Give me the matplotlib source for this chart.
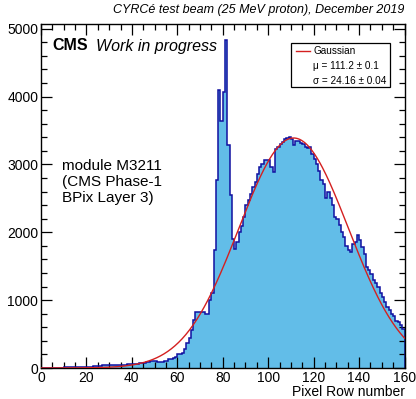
import matplotlib
matplotlib.use("Agg")
import matplotlib.pyplot as plt
import numpy as np
from matplotlib.patches import Rectangle
from matplotlib.lines import Line2D
from matplotlib.ticker import MultipleLocator

plt.rcParams["font.family"] = ["Liberation Sans", "DejaVu Sans"]

# pixel row histogram, 1 bin per row (0..159)
counts_low = [2, 2, 3, 3, 4, 5, 5, 6, 6, 7,
              8, 9, 10, 10, 11, 12, 12, 14, 15, 16,
              18, 20, 22, 24, 26, 28, 30, 38, 42, 40,
              40, 40, 38, 40, 42, 45, 48, 50, 52, 55,
              58, 62, 66, 70, 75, 80, 88, 95, 107, 100]
counts_mid = [100, 88, 88, 90, 107, 110, 137, 137, 150, 162,
              200, 205, 215, 279, 363, 436, 559, 706, 828, 828,
              825, 820, 790, 790, 1000, 1100, 1735, 2775, 4090, 3640,
              4070, 4840, 3280, 2545, 1907, 1760, 1863, 2005, 2088, 2225,
              2397, 2470, 2558, 2667, 2740, 2863, 2961, 3000, 3059, 3070,
              3070, 2960, 2890, 3230, 3260, 3300, 3330, 3377, 3390, 3400]
counts_high = [3380, 3280, 3340, 3345, 3320, 3300, 3260, 3240, 3255, 3157,
               3085, 3010, 2902, 2765, 2716, 2510, 2594, 2500, 2397, 2225,
               2200, 2103, 2005, 1931, 1799, 1735, 1711, 1833, 1857, 1966,
               1882, 1784, 1686, 1490, 1441, 1392, 1294, 1255, 1196, 1108,
               1049, 980, 900, 860, 800, 760, 700, 680, 640, 580]
counts = np.array(counts_low + counts_mid + counts_high)
edges = np.arange(0, 161)

# gaussian fit result
fit_amp = 3390
fit_mu = 111.2
fit_sigma = 24.16

W, H = 416, 399
fig = plt.figure(figsize=(W / 100, H / 100), dpi=100)
ax = fig.add_axes([41 / W, (H - 368) / H, 363.5 / W, 344 / H])

ax.stairs(counts, edges, fill=True, color="#62bde8", zorder=1)
ax.stairs(counts, edges, color="#1010a0", lw=1.1, zorder=2)

xx = np.linspace(0, 160, 400)
ax.plot(xx, fit_amp * np.exp(-0.5 * ((xx - fit_mu) / fit_sigma) ** 2),
        color="#d42020", lw=1.0, zorder=3)

ax.set_xlim(0, 160)
ax.set_ylim(0, 5070)
ax.xaxis.set_major_locator(MultipleLocator(20))
ax.xaxis.set_minor_locator(MultipleLocator(5))
ax.yaxis.set_major_locator(MultipleLocator(1000))
ax.yaxis.set_minor_locator(MultipleLocator(200))
ax.tick_params(which="both", direction="in", top=True, right=True, labelsize=10, pad=2)
ax.tick_params(which="major", length=8, width=0.9)
ax.tick_params(which="minor", length=4, width=0.9)
for s in ax.spines.values():
    s.set_linewidth(1.0)

ax.set_xlabel("Pixel Row number", fontsize=10, loc="right", labelpad=0)


def fx(x):
    return x / W


def fy(y):
    return 1 - y / H


fig.text(fx(404), fy(10), "CYRCé test beam (25 MeV proton), December 2019",
         ha="right", va="center", fontsize=9, style="italic")
fig.text(fx(52), fy(46), "CMS", ha="left", va="center", fontsize=11.5, weight="bold")
fig.text(fx(96), fy(46), "Work in progress", ha="left", va="center", fontsize=11.5, style="italic")

fig.text(fx(62), fy(182), "module M3211\n(CMS Phase-1\nBPix Layer 3)",
         ha="left", va="center", fontsize=11, linespacing=1.15)

# fit legend box
fig.patches.append(Rectangle((fx(291), fy(87)), (390 - 291) / W, (87 - 43) / H,
                             transform=fig.transFigure, fill=True, facecolor="white",
                             edgecolor="black", lw=0.9, zorder=5))
fig.lines.append(Line2D([fx(296), fx(310)], [fy(51), fy(51)], transform=fig.transFigure,
                        color="#d42020", lw=1.0, zorder=6))
fig.text(fx(313), fy(51), "Gaussian", ha="left", va="center", fontsize=7.2, zorder=6)
fig.text(fx(313), fy(66), "μ = 111.2 ± 0.1", ha="left", va="center", fontsize=7.2, zorder=6)
fig.text(fx(313), fy(81), "σ = 24.16 ± 0.04", ha="left", va="center", fontsize=7.2, zorder=6)

fig.savefig("out.png", dpi=100)
